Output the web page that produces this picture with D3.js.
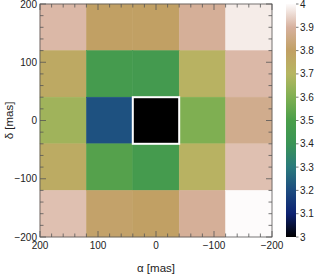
<!DOCTYPE html>
<html>
<head>
<meta charset="utf-8">
<script src="https://cdn.jsdelivr.net/npm/d3@7"></script>
<style>
  body { margin: 0; background: #fff; }
  text { font-family: "Liberation Sans", Arial, sans-serif; fill: #222; }
</style>
</head>
<body>
<svg id="chart" width="315" height="280"></svg>
<script>
// cell centres in mas, 80 mas bins
var alphas = [160, 80, 0, -80, -160];
var deltas = [160, 80, 0, -80, -160];
// values by row (delta from top), columns alpha 160 -> -160
var values = [
  [3.91, 3.80, 3.80, 3.89, 3.98],
  [3.76, 3.47, 3.46, 3.72, 3.91],
  [3.66, 3.21, 3.00, 3.60, 3.87],
  [3.75, 3.52, 3.47, 3.72, 3.92],
  [3.92, 3.81, 3.80, 3.89, 4.00]
];
var xTicks = [200, 100, 0, -100, -200];
var yTicks = [-200, -100, 0, 100, 200];
var cbTicks = [3, 3.1, 3.2, 3.3, 3.4, 3.5, 3.6, 3.7, 3.8, 3.9, 4];
var highlight = [0, 0];

// earth-like colour ramp
var rampStops = [0, 0.1, 0.2, 0.3, 0.4, 0.5, 0.6, 0.7, 0.8, 0.9, 1];
var rampColors = ["#000000", "#0d2272", "#1d4c80", "#2a7a7c", "#3a9456", "#4a9e4a",
                  "#7faf52", "#b6b661", "#c1a064", "#d7b19e", "#fdfbfb"];

var svg = d3.select("#chart");
var m = {left: 40, top: 4, right: 272, bottom: 237};
var cw = 80;

var x = d3.scaleLinear().domain([200, -200]).range([m.left, m.right]);
var y = d3.scaleLinear().domain([-200, 200]).range([m.bottom, m.top]);
var ramp = d3.scaleLinear().domain(rampStops).range(rampColors).interpolate(d3.interpolateRgb).clamp(true);
var color = function(v){ return ramp((v - 3) / 1); };

var cells = [];
values.forEach(function(row, i){
  row.forEach(function(v, j){ cells.push({a: alphas[j], d: deltas[i], v: v}); });
});

svg.append("g").selectAll("rect")
  .data(cells)
  .enter()
  .append("rect")
    .attr("x", function(d){ return x(d.a + cw/2); })
    .attr("y", function(d){ return y(d.d + cw/2); })
    .attr("width", function(d){ return x(d.a - cw/2) - x(d.a + cw/2); })
    .attr("height", function(d){ return y(d.d - cw/2) - y(d.d + cw/2); })
    .attr("fill", function(d){ return color(d.v); })
    .attr("stroke", function(d){ return color(d.v); })
    .attr("stroke-width", 0.5);

// highlighted centre cell
svg.append("rect")
  .attr("x", x(highlight[0] + cw/2))
  .attr("y", y(highlight[1] + cw/2))
  .attr("width", x(highlight[0] - cw/2) - x(highlight[0] + cw/2))
  .attr("height", y(highlight[1] - cw/2) - y(highlight[1] + cw/2))
  .attr("fill", "none")
  .attr("stroke", "#fff")
  .attr("stroke-width", 2);

// frame ticks (major + minor on all sides)
function minor(dom){ return d3.range(dom[0], dom[1] + 1, 20); }
var frame = svg.append("g").attr("stroke", "#555").attr("stroke-width", 0.8);
minor([-200, 200]).forEach(function(t){
  var len = (t % 100 == 0) ? 6 : 3.5;
  frame.append("line").attr("x1", x(t)).attr("x2", x(t)).attr("y1", m.bottom).attr("y2", m.bottom - len);
  frame.append("line").attr("x1", x(t)).attr("x2", x(t)).attr("y1", m.top).attr("y2", m.top + len);
  frame.append("line").attr("y1", y(t)).attr("y2", y(t)).attr("x1", m.left).attr("x2", m.left + len);
  frame.append("line").attr("y1", y(t)).attr("y2", y(t)).attr("x1", m.right).attr("x2", m.right - len);
});
svg.append("rect")
  .attr("x", m.left).attr("y", m.top)
  .attr("width", m.right - m.left).attr("height", m.bottom - m.top)
  .attr("fill", "none").attr("stroke", "#555").attr("stroke-width", 0.8);

var fmt = function(t){ return t < 0 ? "\u2212" + Math.abs(t) : String(t); };
svg.append("g").selectAll("text")
  .data(xTicks).enter().append("text")
    .attr("x", function(d){ return x(d); })
    .attr("y", m.bottom + 12)
    .attr("text-anchor", "middle")
    .attr("font-size", 10)
    .text(fmt);
svg.append("g").selectAll("text")
  .data(yTicks).enter().append("text")
    .attr("x", m.left - 3)
    .attr("y", function(d){ return y(d) + 3.5; })
    .attr("text-anchor", "end")
    .attr("font-size", 10)
    .text(fmt);

svg.append("text")
  .attr("x", (m.left + m.right) / 2)
  .attr("y", 272)
  .attr("text-anchor", "middle")
  .attr("font-size", 11.5)
  .text("\u03b1 [mas]");
svg.append("text")
  .attr("transform", "translate(13," + ((m.top + m.bottom) / 2) + ") rotate(-90)")
  .attr("text-anchor", "middle")
  .attr("font-size", 11.5)
  .text("\u03b4 [mas]");

// colour bar
var cb = {x: 286, w: 10};
var cy = d3.scaleLinear().domain([3, 4]).range([m.bottom, m.top]);
var grad = svg.append("defs").append("linearGradient")
  .attr("id", "cbgrad").attr("x1", 0).attr("x2", 0).attr("y1", 1).attr("y2", 0);
d3.range(0, 1.0001, 0.05).forEach(function(t){
  grad.append("stop").attr("offset", t).attr("stop-color", ramp(t));
});
svg.append("rect")
  .attr("x", cb.x).attr("y", m.top)
  .attr("width", cb.w).attr("height", m.bottom - m.top)
  .attr("fill", "url(#cbgrad)");
var cbg = svg.append("g");
cbg.selectAll("line").data(cbTicks).enter().append("line")
  .attr("x1", cb.x + cb.w).attr("x2", cb.x + cb.w + 2.5)
  .attr("y1", function(d){ return cy(d); }).attr("y2", function(d){ return cy(d); })
  .attr("stroke", "#555").attr("stroke-width", 0.8);
cbg.selectAll("text").data(cbTicks).enter().append("text")
  .attr("x", cb.x + cb.w + 4)
  .attr("y", function(d){ return cy(d) + 3.5; })
  .attr("font-size", 10)
  .text(function(d){ return d3.format("~g")(d); });
</script>
</body>
</html>
